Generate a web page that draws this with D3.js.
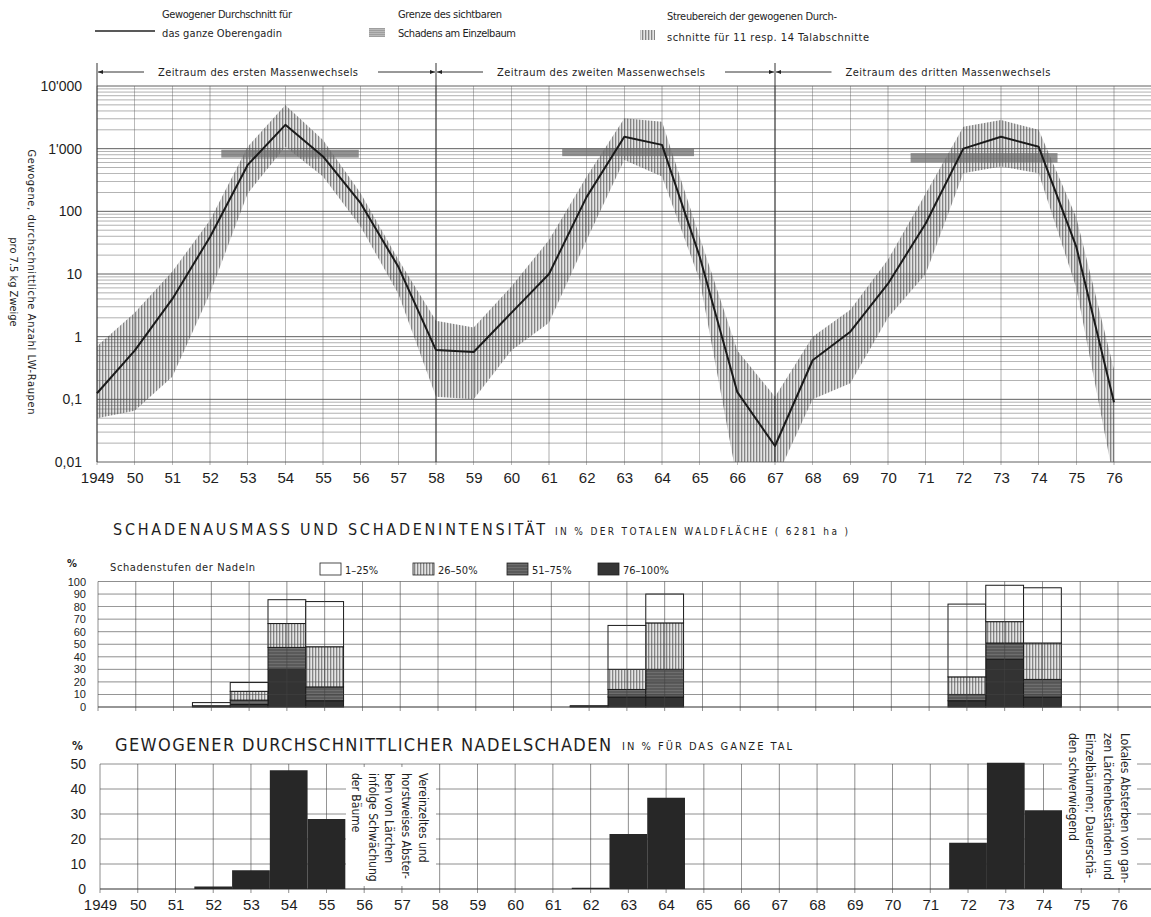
<!DOCTYPE html>
<html>
<head>
<meta charset="utf-8">
<script src="https://cdn.jsdelivr.net/npm/d3@7"></script>
<style>
  body { margin: 0; background: #fff; }
  svg { display: block; font-family: "Liberation Sans Narrow", "DejaVu Sans Condensed", "Liberation Sans", sans-serif; fill: #1e1e1e; }
</style>
</head>
<body>
<svg id="chart"></svg>
<script>
// ---- top panel: caterpillar counts (log scale)
const years = [1949, 1950, 1951, 1952, 1953, 1954, 1955, 1956, 1957, 1958, 1959, 1960, 1961, 1962,
  1963, 1964, 1965, 1966, 1967, 1968, 1969, 1970, 1971, 1972, 1973, 1974, 1975, 1976];
const yearLabels = ['1949', '50', '51', '52', '53', '54', '55', '56', '57', '58', '59', '60', '61', '62',
  '63', '64', '65', '66', '67', '68', '69', '70', '71', '72', '73', '74', '75', '76'];
const meanCount = [0.125, 0.6, 4, 39, 550, 2400, 750, 135, 13, 0.61, 0.57, 2.4, 10, 170,
  1550, 1150, 19, 0.13, 0.018, 0.42, 1.2, 7, 64, 1000, 1550, 1070, 27, 0.09];
const spreadHigh = [0.7, 2.4, 11, 72, 1070, 4970, 1380, 195, 17, 1.8, 1.4, 6.3, 35, 360,
  3050, 2700, 39, 0.6, 0.11, 1, 2.7, 17, 193, 2240, 2870, 2000, 80, 0.3];
const spreadLow = [0.05, 0.066, 0.23, 4.9, 193, 1070, 360, 57, 4.8, 0.11, 0.1, 0.6, 1.67, 35,
  660, 360, 8, 0.005, 0.005, 0.1, 0.18, 2, 10, 405, 520, 405, 6, 0.005];
const topTicks = [0.01, 0.1, 1, 10, 100, 1000, 10000];
const topTickLabels = ['0,01', '0,1', '1', '10', '100', "1'000", "10'000"];

// visible damage limit bands
const limitFrom = [1952.3, 1961.35, 1970.6];
const limitTo = [1955.95, 1964.85, 1974.5];
const limitLow = [720, 760, 600];
const limitHigh = [960, 1000, 850];

// periods of mass outbreaks
const periodStart = [1949, 1958, 1967];
const periodEnd = [1958, 1967, null];
const periodNames = ['Zeitraum des ersten Massenwechsels', 'Zeitraum des zweiten Massenwechsels',
  'Zeitraum des dritten Massenwechsels'];

// ---- middle panel: damage extent by needle damage class
const damageYears = [1952, 1953, 1954, 1955, 1962, 1963, 1964, 1972, 1973, 1974];
const class76to100 = [0, 2, 30, 5, 0.5, 8, 8, 5, 38, 8];
const class51to75 = [1, 3.5, 17.5, 11, 0.5, 6, 22, 5, 13, 14];
const class26to50 = [0, 7, 19, 32, 0, 16, 37, 14, 17, 29];
const class1to25 = [2.5, 7, 19, 36, 0, 35, 23, 58, 29, 44];
const classNames = ['1–25%', '26–50%', '51–75%', '76–100%'];

// ---- bottom panel: weighted mean needle damage
const needleYears = [1952, 1953, 1954, 1955, 1962, 1963, 1964, 1972, 1973, 1974];
const needleDamage = [1, 7.5, 47.5, 28, 0.5, 22, 36.5, 18.5, 50.5, 31.5];
const noteFirst = ['Vereinzeltes und', 'horstweises Abster-', 'ben von Lärchen', 'infolge Schwächung', 'der Bäume'];
const noteThird = ['Lokales Absterben von gan-', 'zen Lärchenbeständen und', 'Einzelbäumen; Dauerschä-', 'den schwerwiegend'];

const width = 1151, height = 917;
const svg = d3.select('#chart').attr('width', width).attr('height', height);
const defs = svg.append('defs');

const vh = defs.append('pattern').attr('id', 'vhatch').attr('patternUnits', 'userSpaceOnUse')
  .attr('width', 3).attr('height', 4);
vh.append('rect').attr('width', 3).attr('height', 4).attr('fill', '#e4e4e4');
vh.append('rect').attr('width', 1.3).attr('height', 4).attr('fill', '#858585');

const hh = defs.append('pattern').attr('id', 'hhatch').attr('patternUnits', 'userSpaceOnUse')
  .attr('width', 4).attr('height', 2);
hh.append('rect').attr('width', 4).attr('height', 2).attr('fill', '#8a8a8a');
hh.append('rect').attr('width', 4).attr('height', 1).attr('fill', '#5e5e5e');

const mh = defs.append('pattern').attr('id', 'midhatch').attr('patternUnits', 'userSpaceOnUse')
  .attr('width', 4).attr('height', 3);
mh.append('rect').attr('width', 4).attr('height', 3).attr('fill', '#5a5a5a');
mh.append('rect').attr('width', 4).attr('height', 1).attr('fill', '#6e6e6e');

defs.append('marker').attr('id', 'arrow').attr('viewBox', '0 0 10 10')
  .attr('refX', 10).attr('refY', 5).attr('markerWidth', 7).attr('markerHeight', 5)
  .attr('orient', 'auto-start-reverse').attr('markerUnits', 'userSpaceOnUse')
  .append('path').attr('d', 'M0,1L10,5L0,9Z').attr('fill', '#222');

// ================= legend at the top
const leg = svg.append('g').attr('font-size', 11);
leg.append('line').attr('x1', 95).attr('x2', 155).attr('y1', 31).attr('y2', 31)
  .attr('stroke', '#222').attr('stroke-width', 1.5);
leg.append('text').attr('x', 162).attr('y', 18).attr('textLength', 130).text('Gewogener Durchschnitt für');
leg.append('text').attr('x', 162).attr('y', 37).attr('textLength', 120).text('das ganze Oberengadin');
leg.append('rect').attr('x', 369).attr('y', 28).attr('width', 16).attr('height', 9).attr('fill', 'url(#hhatch)').attr('opacity', 0.6);
leg.append('text').attr('x', 398).attr('y', 18).attr('textLength', 104).text('Grenze des sichtbaren');
leg.append('text').attr('x', 398).attr('y', 37).attr('textLength', 118).text('Schadens am Einzelbaum');
leg.append('rect').attr('x', 640).attr('y', 30).attr('width', 15).attr('height', 10).attr('fill', 'url(#vhatch)');
leg.append('text').attr('x', 667).attr('y', 20).attr('textLength', 170).text('Streubereich der gewogenen Durch-');
leg.append('text').attr('x', 667).attr('y', 41).attr('textLength', 202).text('schnitte für 11 resp. 14 Talabschnitte');

// ================= top panel
const xTop = d3.scaleLinear().domain([1949, 1976]).range([97, 1114]);
const yTop = d3.scaleLog().domain([0.01, 10000]).range([462, 86]);
const topRight = width;

defs.append('clipPath').attr('id', 'topclip').append('rect')
  .attr('x', xTop(1949)).attr('y', yTop(10000)).attr('width', topRight - xTop(1949))
  .attr('height', yTop(0.01) - yTop(10000));

const topG = svg.append('g');
const topData = years.map((y, i) => ({ year: y, mean: meanCount[i], high: spreadHigh[i], low: spreadLow[i] }));

topG.append('path').datum(topData)
  .attr('clip-path', 'url(#topclip)')
  .attr('fill', 'url(#vhatch)')
  .attr('d', d3.area().x(d => xTop(d.year)).y0(d => yTop(d.low)).y1(d => yTop(d.high)));

// log paper
topG.selectAll('line.hg').data(yTop.ticks()).enter().append('line').attr('class', 'hg')
  .attr('x1', xTop(1949)).attr('x2', topRight).attr('y1', d => yTop(d)).attr('y2', d => yTop(d))
  .attr('stroke', '#505050')
  .attr('stroke-width', d => topTicks.includes(d) ? 1 : 0.6)
  .attr('opacity', d => topTicks.includes(d) ? 0.9 : 0.75);
topG.selectAll('line.vg').data(d3.range(1949, 1978)).enter().append('line').attr('class', 'vg')
  .attr('x1', d => xTop(d)).attr('x2', d => xTop(d)).attr('y1', yTop(10000)).attr('y2', yTop(0.01) + 3)
  .attr('stroke', '#555').attr('stroke-width', 0.6).attr('opacity', 0.8);

topG.selectAll('rect.limit').data(limitFrom).enter().append('rect').attr('class', 'limit')
  .attr('x', (d, i) => xTop(d)).attr('width', (d, i) => xTop(limitTo[i]) - xTop(d))
  .attr('y', (d, i) => yTop(limitHigh[i])).attr('height', (d, i) => yTop(limitLow[i]) - yTop(limitHigh[i]))
  .attr('fill', '#6f6f6f').attr('opacity', 0.75);

// period boundaries and labels
topG.selectAll('line.pb').data(periodStart).enter().append('line').attr('class', 'pb')
  .attr('x1', d => xTop(d)).attr('x2', d => xTop(d)).attr('y1', 63).attr('y2', yTop(0.01))
  .attr('stroke', '#333').attr('stroke-width', 1);
const labelCenter = [258, 601, 948];
const labelLength = [200, 208, 205];
const per = topG.append('g').attr('font-size', 11);
periodStart.forEach((s, i) => {
  const left = labelCenter[i] - labelLength[i] / 2, right = labelCenter[i] + labelLength[i] / 2;
  per.append('line').attr('x1', left - 14).attr('x2', xTop(s) + 1).attr('y1', 72).attr('y2', 72)
    .attr('stroke', '#333').attr('marker-end', 'url(#arrow)');
  per.append('text').attr('x', left).attr('y', 76).attr('textLength', labelLength[i]).text(periodNames[i]);
  if (periodEnd[i] !== null) {
    per.append('line').attr('x1', right + 20).attr('x2', xTop(periodEnd[i]) - 1).attr('y1', 72).attr('y2', 72)
      .attr('stroke', '#333').attr('marker-end', 'url(#arrow)');
  }
});

topG.append('path').datum(topData)
  .attr('fill', 'none').attr('stroke', '#1a1a1a').attr('stroke-width', 2).attr('stroke-linejoin', 'round')
  .attr('d', d3.line().x(d => xTop(d.year)).y(d => yTop(d.mean)));

const yAxisTop = topG.append('g').attr('transform', `translate(${xTop(1949)},0)`)
  .call(d3.axisLeft(yTop).tickValues(topTicks).tickFormat((d, i) => topTickLabels[i]).tickSize(0).tickPadding(15));
yAxisTop.select('.domain').remove();
yAxisTop.selectAll('text').attr('font-size', 14).attr('font-family', null).attr('fill', '#1e1e1e');

const xAxisTop = topG.append('g').attr('transform', `translate(0,${yTop(0.01)})`)
  .call(d3.axisBottom(xTop).tickValues(years).tickFormat((d, i) => yearLabels[i]).tickSize(0).tickPadding(10));
xAxisTop.select('.domain').remove();
xAxisTop.selectAll('text').attr('font-size', 15).attr('font-family', null).attr('fill', '#1e1e1e');

const ytitle = topG.append('g').attr('font-size', 11).attr('text-anchor', 'middle');
ytitle.append('text').attr('transform', 'translate(31,282) rotate(90)').attr('dominant-baseline', 'central')
  .attr('textLength', 265).text('Gewogene, durchschnittliche Anzahl LW-Raupen');
ytitle.append('text').attr('transform', 'translate(13,282) rotate(90)').attr('dominant-baseline', 'central')
  .text('pro 7.5 kg Zweige');

// ================= middle panel
const xMid = d3.scaleLinear().domain([1949, 1976]).range([98, 1118]);
const yMid = d3.scaleLinear().domain([0, 100]).range([707, 581.5]);
const mid = svg.append('g');

mid.append('text').attr('x', 113).attr('y', 535).attr('font-size', 16).attr('textLength', 432)
  .text('SCHADENAUSMASS  UND  SCHADENINTENSITÄT');
mid.append('text').attr('x', 555).attr('y', 535).attr('font-size', 10).attr('textLength', 293)
  .text('IN % DER TOTALEN WALDFLÄCHE   ( 6281 ha )');
mid.append('text').attr('x', 67).attr('y', 567).attr('font-size', 11).attr('font-weight', 'bold').text('%');
mid.append('text').attr('x', 110).attr('y', 571).attr('font-size', 11).attr('textLength', 145).text('Schadenstufen der Nadeln');

const classFill = ['#fff', 'url(#vhatch)', 'url(#midhatch)', '#353535'];
const legendBox = [320, 413, 507, 598];
classNames.forEach((name, i) => {
  mid.append('rect').attr('x', legendBox[i]).attr('y', 563).attr('width', 21).attr('height', 12)
    .attr('fill', classFill[i]).attr('stroke', '#222').attr('stroke-width', 0.8);
  mid.append('text').attr('x', legendBox[i] + 25).attr('y', 574).attr('font-size', 11).text(name);
});

const stackRows = damageYears.map((y, i) => ({
  year: y, c76: class76to100[i], c51: class51to75[i], c26: class26to50[i], c1: class1to25[i]
}));
const stacked = d3.stack().keys(['c76', 'c51', 'c26', 'c1'])(stackRows);
const stackFill = ['#333', 'url(#midhatch)', 'url(#vhatch)', '#fff'];
mid.selectAll('g.layer').data(stacked).enter().append('g').attr('class', 'layer')
  .attr('fill', (d, i) => stackFill[i])
  .selectAll('rect').data(d => d.filter(p => p[1] > p[0])).enter().append('rect')
  .attr('x', d => xMid(d.data.year - 0.5))
  .attr('width', xMid(1950) - xMid(1949))
  .attr('y', d => yMid(d[1]))
  .attr('height', d => yMid(d[0]) - yMid(d[1]))
  .attr('stroke', '#1a1a1a').attr('stroke-width', 1);

mid.selectAll('line.hg').data(yMid.ticks(10)).enter().append('line').attr('class', 'hg')
  .attr('x1', xMid(1949)).attr('x2', width).attr('y1', d => yMid(d)).attr('y2', d => yMid(d))
  .attr('stroke', '#444').attr('stroke-width', d => d === 0 ? 1.3 : 0.8).attr('opacity', 0.75);
mid.selectAll('line.vg').data(d3.range(1949, 1978)).enter().append('line').attr('class', 'vg')
  .attr('x1', d => xMid(d)).attr('x2', d => xMid(d)).attr('y1', yMid(100)).attr('y2', yMid(0) + 4)
  .attr('stroke', '#444').attr('stroke-width', 0.8).attr('opacity', 0.75);

const yAxisMid = mid.append('g').attr('transform', `translate(${xMid(1949)},0)`)
  .call(d3.axisLeft(yMid).ticks(10).tickSize(0).tickPadding(12));
yAxisMid.select('.domain').remove();
yAxisMid.selectAll('text').attr('font-size', 11).attr('font-family', null).attr('fill', '#1e1e1e');

// ================= bottom panel
const xBot = d3.scaleLinear().domain([1949, 1976]).range([100, 1119]);
const yBot = d3.scaleLinear().domain([0, 50]).range([889, 764]);
const bot = svg.append('g');

bot.append('text').attr('x', 72).attr('y', 750).attr('font-size', 12).attr('font-weight', 'bold').text('%');
bot.append('text').attr('x', 115).attr('y', 751).attr('font-size', 18).attr('textLength', 496)
  .text('GEWOGENER  DURCHSCHNITTLICHER  NADELSCHADEN');
bot.append('text').attr('x', 622).attr('y', 750).attr('font-size', 11).attr('textLength', 170)
  .text('IN % FÜR DAS GANZE TAL');

bot.selectAll('line.hg').data(yBot.ticks(5)).enter().append('line').attr('class', 'hg')
  .attr('x1', xBot(1949)).attr('x2', width).attr('y1', d => yBot(d)).attr('y2', d => yBot(d))
  .attr('stroke', '#444').attr('stroke-width', d => d === 0 ? 1.3 : 0.8).attr('opacity', 0.75);
bot.selectAll('line.vg').data(d3.range(1949, 1977)).enter().append('line').attr('class', 'vg')
  .attr('x1', d => xBot(d)).attr('x2', d => xBot(d)).attr('y1', yBot(50)).attr('y2', yBot(0) + 4)
  .attr('stroke', '#444').attr('stroke-width', 0.8).attr('opacity', 0.75);

bot.selectAll('rect.bar').data(needleDamage).enter().append('rect').attr('class', 'bar')
  .attr('x', (d, i) => xBot(needleYears[i] - 0.5))
  .attr('width', xBot(1950) - xBot(1949))
  .attr('y', d => yBot(d))
  .attr('height', d => yBot(0) - yBot(d))
  .attr('fill', '#272727');

// rotated notes on white ground
bot.append('rect').attr('x', 346).attr('y', 767).attr('width', 90).attr('height', 119).attr('fill', '#fff');
bot.append('rect').attr('x', 1062).attr('y', 728).attr('width', 75).attr('height', 160).attr('fill', '#fff');
const noteG = bot.append('g').attr('font-size', 12);
noteFirst.forEach((line, i) => {
  noteG.append('text').attr('transform', `translate(${423 - i * 16.8},773) rotate(90)`)
    .attr('dominant-baseline', 'central').text(line);
});
noteThird.forEach((line, i) => {
  noteG.append('text').attr('transform', `translate(${1125 - i * 17.3},733) rotate(90)`)
    .attr('dominant-baseline', 'central').text(line);
});

const yAxisBot = bot.append('g').attr('transform', `translate(${xBot(1949)},0)`)
  .call(d3.axisLeft(yBot).ticks(5).tickSize(0).tickPadding(14));
yAxisBot.select('.domain').remove();
yAxisBot.selectAll('text').attr('font-size', 14).attr('font-family', null).attr('fill', '#1e1e1e');

const xAxisBot = bot.append('g').attr('transform', `translate(0,${yBot(0)})`)
  .call(d3.axisBottom(xBot).tickValues(years).tickFormat((d, i) => yearLabels[i]).tickSize(0).tickPadding(10));
xAxisBot.select('.domain').remove();
xAxisBot.selectAll('text').attr('font-size', 15).attr('font-family', null).attr('fill', '#1e1e1e');
</script>
</body>
</html>
